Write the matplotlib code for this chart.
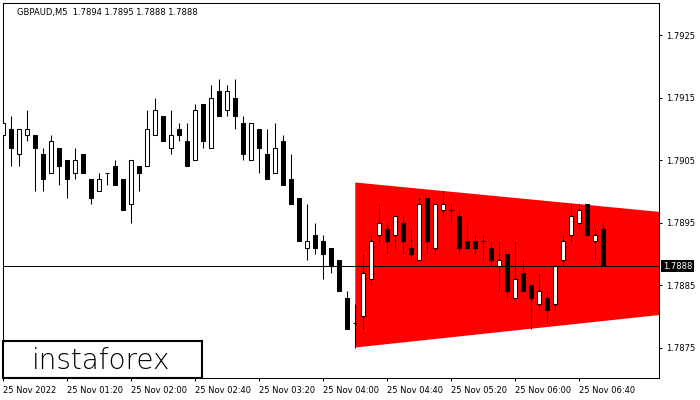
import numpy as np
import matplotlib
matplotlib.use("Agg")
import matplotlib.pyplot as plt
from matplotlib.patches import Rectangle, Polygon
from matplotlib.transforms import blended_transform_factory

title = "GBPAUD,M5  1.7894 1.7895 1.7888 1.7888"

opens = [1.7909, 1.7910, 1.7906, 1.7909, 1.7909, 1.7906, 1.7903, 1.7907, 1.7905, 1.7903,
         1.7906, 1.7902, 1.7900, 1.7903, 1.7904, 1.7902, 1.7898, 1.7904, 1.7904, 1.7909,
         1.7912, 1.7907, 1.7910, 1.7908, 1.7905, 1.7914, 1.7907, 1.7916, 1.7913, 1.7915,
         1.7911, 1.7905, 1.7910, 1.7906, 1.7903, 1.7908, 1.7902, 1.7899, 1.7891, 1.7893,
         1.7892, 1.7891, 1.7889, 1.7883, 1.7879, 1.7880, 1.7886, 1.7893, 1.7894, 1.7893,
         1.7895, 1.7891, 1.7889, 1.7899, 1.7891, 1.7897, 1.7897, 1.7896, 1.7892, 1.7892,
         1.7892, 1.7891, 1.7888, 1.7890, 1.7883, 1.7887, 1.7885, 1.7882, 1.7883, 1.7882,
         1.7889, 1.7893, 1.7895, 1.7898, 1.7892, 1.7894]
highs = [1.7911, 1.7912, 1.7910, 1.7913, 1.7909, 1.7907, 1.7909, 1.7907, 1.7905, 1.7907,
         1.7906, 1.7902, 1.7903, 1.7903, 1.7905, 1.7902, 1.7905, 1.7904, 1.7913, 1.7915,
         1.7912, 1.7913, 1.7911, 1.7911, 1.7914, 1.7914, 1.7917, 1.7918, 1.7917, 1.7918,
         1.7912, 1.7911, 1.7910, 1.7910, 1.7911, 1.7909, 1.7906, 1.7899, 1.7898, 1.7895,
         1.7893, 1.7891, 1.7889, 1.7884, 1.7882, 1.7890, 1.7893, 1.7898, 1.7895, 1.7896,
         1.7896, 1.7894, 1.7899, 1.7899, 1.7898, 1.7900, 1.7898, 1.7897, 1.7895, 1.7893,
         1.7893, 1.7892, 1.7892, 1.7890, 1.7892, 1.7889, 1.7885, 1.7887, 1.7884, 1.7888,
         1.7893, 1.7898, 1.7898, 1.7898, 1.7894, 1.7895]
lows = [1.7904, 1.7904, 1.7904, 1.7908, 1.7900, 1.7900, 1.7903, 1.7901, 1.7899, 1.7902,
        1.7903, 1.7898, 1.7900, 1.7901, 1.7901, 1.7897, 1.7895, 1.7900, 1.7904, 1.7909,
        1.7908, 1.7906, 1.7908, 1.7904, 1.7905, 1.7907, 1.7907, 1.7912, 1.7912, 1.7910,
        1.7905, 1.7905, 1.7903, 1.7902, 1.7903, 1.7901, 1.7898, 1.7892, 1.7889, 1.7890,
        1.7886, 1.7887, 1.7884, 1.7878, 1.7875, 1.7878, 1.7885, 1.7892, 1.7890, 1.7891,
        1.7890, 1.7889, 1.7889, 1.7890, 1.7890, 1.7896, 1.7895, 1.7890, 1.7891, 1.7890,
        1.7889, 1.7888, 1.7884, 1.7883, 1.7883, 1.7884, 1.7878, 1.7881, 1.7879, 1.7881,
        1.7888, 1.7892, 1.7894, 1.7893, 1.7889, 1.7888]
closes = [1.7911, 1.7907, 1.7910, 1.7910, 1.7907, 1.7902, 1.7908, 1.7904, 1.7902, 1.7905,
          1.7903, 1.7899, 1.7902, 1.7903, 1.7901, 1.7897, 1.7905, 1.7903, 1.7910, 1.7913,
          1.7908, 1.7909, 1.7909, 1.7904, 1.7913, 1.7908, 1.7915, 1.7912, 1.7916, 1.7912,
          1.7906, 1.7911, 1.7907, 1.7902, 1.7907, 1.7901, 1.7898, 1.7892, 1.7892, 1.7891,
          1.7890, 1.7888, 1.7884, 1.7878, 1.7879, 1.7887, 1.7892, 1.7895, 1.7892, 1.7896,
          1.7892, 1.7890, 1.7898, 1.7892, 1.7898, 1.7898, 1.7897, 1.7891, 1.7891, 1.7891,
          1.7892, 1.7889, 1.7889, 1.7884, 1.7886, 1.7884, 1.7883, 1.7884, 1.7881, 1.7888,
          1.7892, 1.7896, 1.7897, 1.7893, 1.7893, 1.7888]

# triangle pattern (left edge at bar 44, runs off the right side)
tri_x = [44, 82]
tri_top = [1.79014, 1.78967]
tri_bot = [1.78750, 1.78802]

last_price = 1.7888
price_ticks = [1.7875, 1.7885, 1.7895, 1.7905, 1.7915, 1.7925]
time_labels = ["25 Nov 2022", "25 Nov 01:20", "25 Nov 02:00", "25 Nov 02:40", "25 Nov 03:20",
               "25 Nov 04:00", "25 Nov 04:40", "25 Nov 05:20", "25 Nov 06:00", "25 Nov 06:40"]

o = np.array(opens); h = np.array(highs); l = np.array(lows); c = np.array(closes)
idx = np.arange(len(o))
up = c >= o
lo = np.minimum(o, c)
ht = np.abs(c - o)

W, H = 700, 400
fig = plt.figure(figsize=(7, 4), dpi=100)
ax = fig.add_axes([2.7 / W, (H - 378) / H, 656 / W, 375.3 / H])

poly = Polygon([(tri_x[0], tri_top[0]), (tri_x[1], tri_top[1]),
                (tri_x[1], tri_bot[1]), (tri_x[0], tri_bot[0])],
               closed=True, facecolor='#ff0000', edgecolor='none', zorder=1)
ax.add_patch(poly)

ax.axhline(last_price, color='black', lw=0.75, zorder=2)

ax.vlines(idx, l, h, color='black', lw=0.75, zorder=3)
ax.bar(idx[up], ht[up], bottom=lo[up], width=0.5, facecolor='white',
       edgecolor='black', lw=0.75, zorder=4)
ax.bar(idx[~up], ht[~up], bottom=lo[~up], width=0.5, facecolor='black',
       edgecolor='black', lw=0.75, zorder=4)

ax.set_xlim(-0.075, 81.925)
ax.set_ylim(1.787012, 1.793017)

ax.yaxis.tick_right()
ax.set_yticks(price_ticks)
ax.set_yticklabels([f"{v:.4f}" for v in price_ticks])
ax.tick_params(axis='y', direction='out', length=2.5, width=0.75, pad=3, labelsize=6)

ax.set_xticks(idx[::8][:len(time_labels)])
ax.set_xticklabels(time_labels, ha='left')
ax.tick_params(axis='x', direction='out', length=2.5, width=0.75, pad=3, labelsize=6)

for s in ax.spines.values():
    s.set_linewidth(0.75)

trans = blended_transform_factory(ax.transAxes, ax.transData)
ax.text(1.006, last_price, f"{last_price:.4f}", transform=trans, fontsize=6,
        color='white', va='center', ha='left',
        bbox=dict(facecolor='black', edgecolor='none', pad=1.2))

fig.text(17 / W, (H - 12) / H, title, fontsize=6, va='center', ha='left')

fig.add_artist(Rectangle((3.3 / W, (H - 378) / H), 198.4 / W, 37 / H,
                         transform=fig.transFigure, facecolor='white',
                         edgecolor='black', lw=1.5, zorder=10))
fig.text(101 / W, (H - 369.3) / H, "instaforex", fontsize=20, va='baseline',
         ha='center', fontweight='light', zorder=11)

fig.savefig("out.png", dpi=100)
